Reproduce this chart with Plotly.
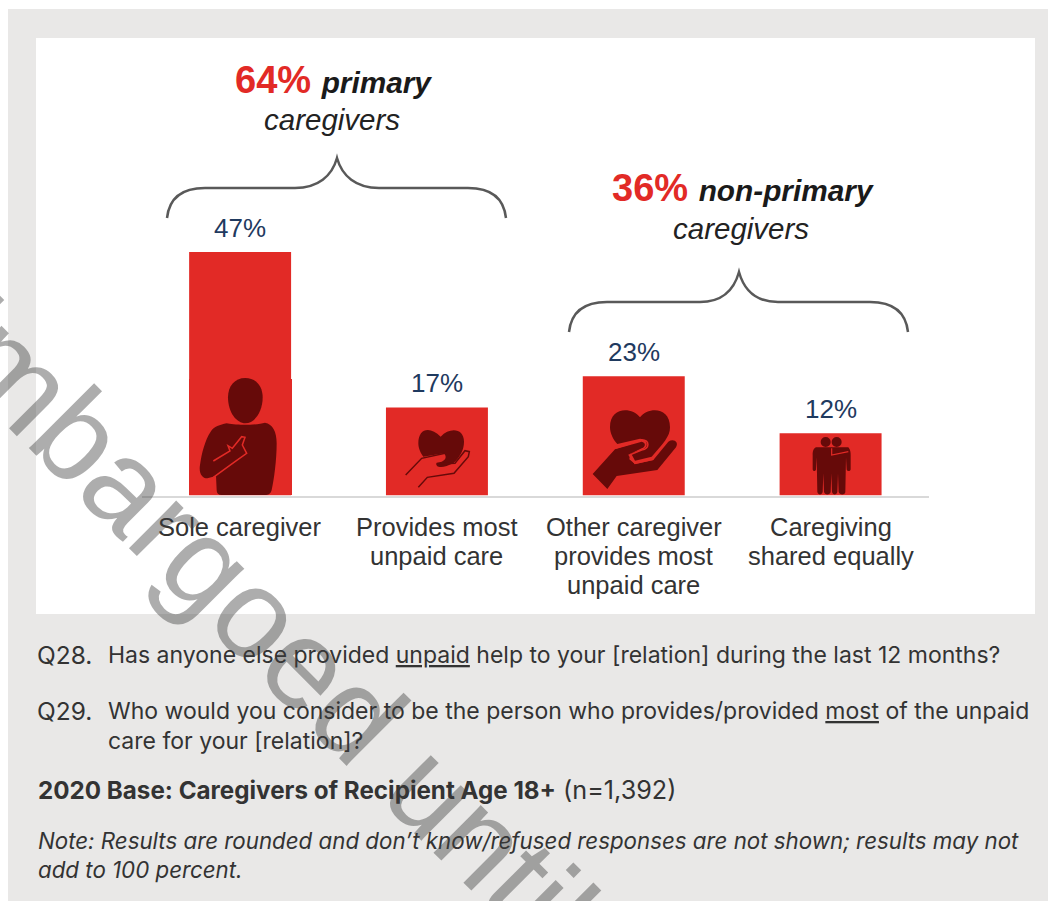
import re
import plotly.graph_objects as go

# Data
categories = ["Sole caregiver", "Provides most unpaid care",
              "Other caregiver provides most unpaid care", "Caregiving shared equally"]
category_lines = [["Sole caregiver"], ["Provides most", "unpaid care"],
                  ["Other caregiver", "provides most", "unpaid care"], ["Caregiving", "shared equally"]]
values = [47, 17, 23, 12]
value_labels = ["47%", "17%", "23%", "12%"]

RED = "#e22a26"
DARK = "#660a09"
NAVY = "#1f3a5f"
GREY = "#e9e8e7"
W, H = 1048, 901
SANS = "Liberation Sans"
FOOT = "Inter"


def px(x, y):
    return x / W, 1 - y / H


def conv(path, ox, oy, s=1 / 3):
    """Decorative path drawn in crop pixels -> paper coordinates."""
    toks = re.findall(r"[A-Za-z]|-?\d+\.?\d*", path)
    out, i = [], 0
    while i < len(toks):
        if toks[i].isalpha():
            out.append(toks[i]); i += 1
        else:
            a, b = px(ox + float(toks[i]) * s, oy + float(toks[i + 1]) * s)
            out.append(f"{a:.5f},{b:.5f}"); i += 2
    return " ".join(out)


fig = go.Figure(go.Bar(
    x=categories, y=values, marker=dict(color=RED, line=dict(width=0)), hoverinfo="skip"))

shapes = []


def rect(x0, y0, x1, y1, color, layer="below"):
    a, b = px(x0, y0)
    c, d = px(x1, y1)
    shapes.append(dict(type="rect", xref="paper", yref="paper", x0=a, y0=b, x1=c, y1=d,
                       fillcolor=color, line_width=0, layer=layer))


def icon(path, ox, oy, fill=DARK, s=1 / 3):
    shapes.append(dict(type="path", xref="paper", yref="paper", path=conv(path, ox, oy, s),
                       fillcolor=fill, line_width=0, layer="above"))


def stroke(path, ox, oy, color, width, s=1 / 3):
    shapes.append(dict(type="path", xref="paper", yref="paper", path=conv(path, ox, oy, s),
                       line=dict(color=color, width=width), layer="above"))


def dot(cx, cy, r, ox, oy, fill=DARK):
    a, b = px(ox + (cx - r) / 3, oy + (cy - r) / 3)
    c, d = px(ox + (cx + r) / 3, oy + (cy + r) / 3)
    shapes.append(dict(type="circle", xref="paper", yref="paper", x0=a, y0=b, x1=c, y1=d,
                       fillcolor=fill, line_width=0, layer="above"))


rect(8, 9, W, H, GREY)
rect(36, 38, 1035, 614, "white")
rect(189, 379, 292, 495, RED, "above")

# braces
stroke("M167,218 C169,200 180,188 205,188 L295,188 C318,188 332,176 337,158 "
       "C342,176 356,188 379,188 L468,188 C493,188 504,200 506,218", 0, 0, "#595959", 2.5, 1)
stroke("M569,332 C571,314 582,302 607,302 L700,302 C723,302 734,290 739,272 "
       "C744,290 755,302 778,302 L870,302 C895,302 906,314 908,332", 0, 0, "#595959", 2.5, 1)

# person icon (crop origin 0,280)
icon("M736,294 C768,294 788,318 788,352 C788,398 762,430 736,430 C710,430 684,398 684,352 C684,318 704,294 736,294 Z", 0, 280)
icon("M680,430 C700,436 770,436 795,428 C818,432 830,455 830,490 C830,540 822,600 815,630 "
     "C812,642 805,645 795,645 L665,645 C655,645 650,640 650,630 L648,588 L622,595 C605,595 596,578 600,555 "
     "C605,520 615,480 632,455 C642,440 660,434 680,430 Z", 0, 280)
stroke("M640,543 L690,513 L684,497 L697,505 L725,470 L735,472 L727,495 L740,520 L705,545 L640,592", 0, 280, RED, 1.5)

# outlined hand + heart (crop origin 0,280)
icon("M1322,470 C1290,438 1255,445 1255,490 C1255,505 1262,520 1270,530 L1330,520 C1340,525 1340,540 1325,545 L1310,548 "
     "C1305,560 1320,565 1340,558 L1360,550 C1380,530 1392,510 1392,485 C1392,445 1350,440 1322,470 Z", 0, 280)
stroke("M1217,585 L1265,535 L1335,520 M1310,552 L1365,550 L1395,512 L1408,515 L1405,530 "
       "L1362,580 L1282,592 L1255,622", 0, 280, DARK, 1.5)

# solid hand + heart (crop origin 520,340)
icon("M360,232 C335,200 270,200 270,262 C270,280 280,300 292,312 L360,296 C385,298 388,322 365,330 L333,340 "
     "L345,362 L395,350 C430,310 450,290 450,262 C450,200 385,200 360,232 Z", 520, 340)
icon("M218,402 L285,328 L365,305 C378,308 378,320 365,325 L330,342 L328,358 L345,372 L400,360 L445,305 "
     "C460,295 478,305 468,322 L412,390 L290,408 L262,447 Z", 520, 340)
stroke("M285,325 L365,300 C390,300 390,325 365,330 L328,345 L345,370 L400,358", 520, 340, RED, 1.5)

# two people (crop origin 520,340)
dot(917, 306, 15, 520, 340)
dot(950, 306, 15, 520, 340)
icon("M888,322 L985,322 C992,330 992,340 992,345 L992,388 C992,395 980,395 980,388 L978,352 L976,455 "
     "C976,466 958,466 956,455 L954,400 L952,455 C950,466 938,466 936,455 L934,400 L932,455 C930,466 914,466 912,455 "
     "L910,400 L908,455 C906,466 894,466 892,455 L890,352 L888,388 C888,395 878,395 878,388 L878,345 C878,335 880,325 888,322 Z", 520, 340)
stroke("M935,325 L935,345 L985,335", 520, 340, RED, 1.2)

fig.update_layout(
    width=W, height=H, margin=dict(l=0, r=0, t=0, b=0), showlegend=False,
    paper_bgcolor="white", plot_bgcolor="rgba(0,0,0,0)", bargap=0.482, shapes=shapes,
    xaxis=dict(domain=[141.7 / W, 929 / W], showline=True, linecolor="#d9d9d9", linewidth=2,
               showgrid=False, zeroline=False, ticks="", showticklabels=False, automargin=False),
    yaxis=dict(domain=[1 - 495.5 / H, 1 - 236.5 / H], range=[0, 50], visible=False, automargin=False),
)

# value labels and multi-line category labels tied to the axes
for cat, val, lab, lines in zip(categories, values, value_labels, category_lines):
    fig.add_annotation(x=cat, y=val, text=lab, showarrow=False, yanchor="middle", yshift=24,
                       font=dict(family=SANS, size=26, color=NAVY))
    for i, line in enumerate(lines):
        fig.add_annotation(x=cat, y=0, text=line, showarrow=False, yanchor="middle", yshift=-(31.5 + 29 * i),
                           font=dict(family=SANS, size=25.5, color="#333333"))


def note(x, y, text, family=SANS, size=24, color="#222222", anchor="left", **kw):
    a, b = px(x, y)
    fig.add_annotation(xref="paper", yref="paper", x=a, y=b, text=text, showarrow=False,
                       xanchor=anchor, yanchor="middle", align=anchor,
                       font=dict(family=family, size=size, color=color), borderpad=0, **kw)


def big(n):
    return f"<span style='font-size:38px;color:{RED}'><b>{n} </b></span>"


note(333, 80, big("64%") + "<b><i>primary</i></b>", size=29.8, anchor="center", color="#1a1a1a")
note(332, 120, "<i>caregivers</i>", size=29.5, anchor="center", color="#222222")
note(743, 188, big("36%") + "<b><i>non-primary</i></b>", size=29.8, anchor="center", color="#1a1a1a")
note(741, 228, "<i>caregivers</i>", size=29.5, anchor="center", color="#222222")

F = dict(family=FOOT, size=23, color="#333333")
note(36, 655, "<span style='font-size:24.5px'>Q28.</span>", **F)
note(107, 655, "Has anyone else provided <u>unpaid</u> help to your [relation] during the last 12 months?", **F)
note(36, 711, "<span style='font-size:24.5px'>Q29.</span>", **F)
note(107, 711, "Who would you consider to be the person who provides/provided <u>most</u> of the unpaid", **F)
note(107, 741, "care for your [relation]?", **F)
note(37, 790, "<span style='font-size:24.2px'><b>2020 Base: Caregivers of Recipient Age 18+</b></span>"
              "<span style='font-size:25.2px'> (n=1,392)</span>", **F)
note(37, 840, "<i>Note: Results are rounded and don’t know/refused responses are not shown; results may not</i>",
     family=FOOT, size=22.3, color="#333333")
note(37, 869, "<i>add to 100 percent.</i>", family=FOOT, size=22.3, color="#333333")

# watermark
note(246, 603, "Embargoed until", size=127, color="rgba(60,60,60,0.42)", anchor="center", textangle=45)

fig.write_html("out.html", config=dict(displayModeBar=False),
               post_script="document.body.style.margin='0';document.body.style.overflow='hidden';")
